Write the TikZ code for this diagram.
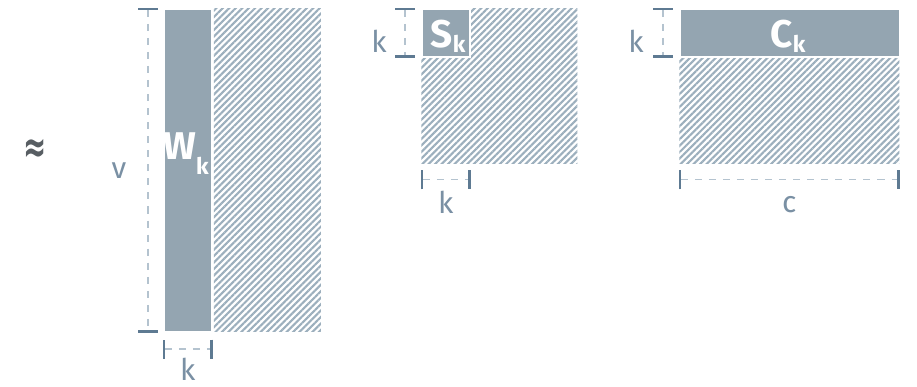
\documentclass[tikz,border=0pt]{standalone}
\usepackage{fontspec}
\setmainfont{Fira Sans}
\newfontfamily\symfont{DejaVu Sans}
\definecolor{mxfill}{RGB}{148,165,177}
\definecolor{mxhatch}{RGB}{156,175,189}
\definecolor{mxdash}{RGB}{180,195,207}
\definecolor{mxtick}{RGB}{94,122,146}
\definecolor{mxlabel}{RGB}{122,144,164}
\definecolor{mxsign}{RGB}{88,94,99}
\usetikzlibrary{arrows.meta,positioning,patterns.meta,calc}
\newcommand{\subk}[1]{\raisebox{#1}{\fontsize{13}{13}\selectfont k}}

\begin{document}
\begin{tikzpicture}[
  x=0.02cm, y=-0.02cm,
  blk/.style={rectangle, fill=mxfill, draw=white, line width=1pt,
              inner sep=0pt, anchor=north west},
  hatch/.style={rectangle, inner sep=0pt, anchor=north west,
                pattern={Lines[angle=45, distance=2.6pt, line width=1.2pt]},
                pattern color=mxhatch},
  dim/.style={draw=mxdash, line width=0.8pt, dash pattern=on 4pt off 4pt,
              {Bar[width=11pt, line width=1.3pt, color=mxtick]}-{Bar[width=11pt, line width=1.3pt, color=mxtick]}},
  dlabel/.style={text=mxlabel, inner sep=0pt, font=\fontsize{17}{17}\selectfont},
  mlabel/.style={text=white, font=\fontsize{22}{22}\selectfont\bfseries, anchor=base}
]
\useasboundingbox (0,0) rectangle (917,386);

% Approx sign
\node[text=mxsign, font=\symfont\bfseries\fontsize{15}{15}\selectfont] (approx) at (35,151)
  {\scalebox{1.05}[1.7]{≈}};

% W matrix
\node[blk, minimum width=0.96cm, minimum height=6.46cm] (Wk) at (163,8) {};
\node[hatch, minimum width=2.14cm, minimum height=6.46cm, right=0pt of Wk] (Wrest) {};
\node[mlabel] (lblW) at (186,159) {W\subk{-9pt}};

% S matrix
\node[hatch, minimum width=3.12cm, minimum height=3.10cm] (S) at (421,8) {};
\node[blk, minimum width=0.96cm, minimum height=0.96cm] (Sk) at (421,8) {};
\node[mlabel] (lblS) at (448,47) {S\subk{-3pt}};

% C matrix
\node[hatch, minimum width=4.40cm, minimum height=3.10cm] (C) at (679,8) {};
\node[blk, minimum width=4.40cm, minimum height=0.96cm] (Ck) at (679,8) {};
\node[mlabel] (lblC) at (788,47) {C\subk{-3pt}};

% Dimension lines
\draw[dim] ([xshift=-0.30cm]Wk.north west) -- ([xshift=-0.30cm]Wk.south west)
  node[dlabel, midway, xshift=-0.58cm] (v) {v};
\draw[dim] ([yshift=-0.33cm]Wk.south west) -- ([yshift=-0.33cm]Wk.south east)
  node[dlabel, midway, yshift=-0.40cm] (kW) {k};

\draw[dim] ([xshift=-0.32cm]Sk.north west) -- ([xshift=-0.32cm]Sk.south west)
  node[dlabel, midway, xshift=-0.52cm, yshift=-0.16cm] (kSv) {k};
\draw[dim] ([yshift=-0.32cm]S.south west) -- ([yshift=-0.32cm]S.south west -| Sk.east)
  node[dlabel, midway, yshift=-0.46cm] (kSh) {k};

\draw[dim] ([xshift=-0.32cm]Ck.north west) -- ([xshift=-0.32cm]Ck.south west)
  node[dlabel, midway, xshift=-0.54cm, yshift=-0.16cm] (kC) {k};
\draw[dim] ([yshift=-0.32cm]C.south west) -- ([yshift=-0.32cm]C.south east)
  node[dlabel, midway, yshift=-0.50cm] (c) {c};
\end{tikzpicture}
\end{document}
